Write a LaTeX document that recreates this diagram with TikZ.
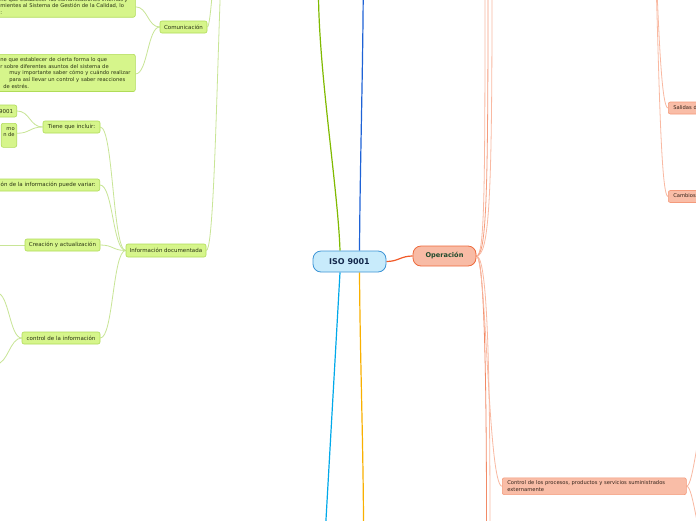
\documentclass[tikz,border=0pt]{standalone}
\usepackage{fontspec}
\setmainfont{DejaVu Sans}
\usetikzlibrary{calc,backgrounds}
\definecolor{gfill}{HTML}{D6F58B}
\definecolor{gborder}{HTML}{B0DC58}
\definecolor{gline}{HTML}{C8E596}
\definecolor{gtext}{HTML}{2A3314}
\definecolor{ofill}{HTML}{F9BDA7}
\definecolor{oborder}{HTML}{F49A7B}
\definecolor{oline}{HTML}{F9B9A2}
\definecolor{odark}{HTML}{F28A66}
\definecolor{otext}{HTML}{33231A}
\definecolor{opfill}{HTML}{F8BBA5}
\definecolor{opborder}{HTML}{EE6A3C}
\definecolor{optext}{HTML}{1E4A2C}
\definecolor{isofill}{HTML}{C8EBFB}
\definecolor{isoborder}{HTML}{3C94D6}
\definecolor{isotext}{HTML}{13284B}
\definecolor{mgreen}{HTML}{80BA00}
\definecolor{mblue}{HTML}{1E62D6}
\definecolor{mcyan}{HTML}{00A9EA}
\definecolor{morange}{HTML}{F9B000}
\definecolor{mred}{HTML}{F15A28}
\tikzset{
  isostyle/.style={draw=isoborder, fill=isofill, line width=0.8pt, rounded corners=8pt,
    text=isotext, font=\fontsize{8}{9.5}\selectfont\bfseries, inner sep=0pt},
  opstyle/.style={draw=opborder, fill=opfill, line width=0.8pt, rounded corners=8pt,
    text=optext, font=\fontsize{6.6}{8}\selectfont\bfseries, inner sep=0pt},
  gnode/.style={draw=gborder, fill=gfill, line width=0.6pt, rounded corners=2pt,
    text=gtext, font=\fontsize{5.5}{6.6}\selectfont, inner sep=0pt, minimum height=12pt},
  gblock/.style={gnode, align=left, font=\fontsize{5.2}{6.8}\selectfont, inner xsep=3pt, inner ysep=3pt},
  onode/.style={draw=oborder, fill=ofill, line width=0.6pt, rounded corners=2pt,
    text=otext, font=\fontsize{5.2}{6.8}\selectfont, inner sep=0pt, minimum height=12pt},
  mainline/.style={line width=1.2pt},
  gconn/.style={draw=gline, line width=0.8pt},
  oconn/.style={draw=oline, line width=0.8pt},
}
\begin{document}
\begin{tikzpicture}[x=1pt,y=-1pt]
\useasboundingbox (0,0) rectangle (696,520);
\clip (0,0) rectangle (696,520);

% free ends (off-picture)
\coordinate (apoyo) at (232,-150);
\coordinate (gtop) at (318.5,-3);
\coordinate (btop) at (363.2,-3);
\coordinate (cbot) at (325.8,523);
\coordinate (obot) at (363.5,523);
\coordinate (oU1) at (485,-5);
\coordinate (oU2) at (488,-5);
\coordinate (oU3) at (492,-5);
\coordinate (oD1) at (486.5,525);
\coordinate (oD2) at (490,525);
\coordinate (dise) at (645,-150);
\coordinate (ctrlU) at (706,420);
\coordinate (ctrlD) at (706,545);
\coordinate (gc1) at (-3,293);
\coordinate (gc2) at (-4,364);
\coordinate (gcr) at (-10,245);

% nodes
\node[isostyle, minimum width=73pt, minimum height=21pt] (iso) at (349.5,261.5) {ISO 9001};
\node[opstyle, minimum width=63pt, minimum height=20pt] (op) at (444.5,256) {Operación};

\node[gnode, minimum width=47pt] (com) at (183.5,27) {Comunicación};
\node[gblock, anchor=south west, text width=132pt, font=\fontsize{5.2}{6.4}\selectfont] (blkA) at (-3,17.5)
  {ne que establecer las comunicaciones internas y\\ mientes al Sistema de Gestión de la Calidad, lo\\ :};
\node[gblock, anchor=north west, text width=132pt] (blkB) at (-3,54)
  {ne que establecer de cierta forma lo que\\ r sobre diferentes asuntos del sistema de\\ \mbox{}\hspace{9pt}muy importante saber cómo y cuándo realizar\\ \mbox{}\hspace{9pt}para así llevar un control y saber reacciones\\ \mbox{}\hspace{3pt}de estrés.};

\node[gnode, minimum width=57pt] (tiene) at (71.5,127) {Tiene que incluir:};
\node[gnode, anchor=east, inner xsep=3.5pt] (iso9001) at (17,111) {ISO 9001};
\node[gnode, anchor=north east, align=right, inner xsep=2pt, inner ysep=2pt, minimum height=24pt,
  font=\fontsize{5.2}{6.6}\selectfont] (comoN) at (17,123) {mo\\n de\\\phantom{x}};
\node[gnode, anchor=east, inner xsep=4pt] (variar) at (100,185) {La extensión de la información puede variar:};
\node[gnode, minimum width=75pt] (crea) at (62.5,245) {Creación y actualización};
\node[gnode, minimum width=80pt, minimum height=13pt] (info) at (166,250.5) {Información documentada};
\node[gnode, minimum width=78pt] (ctrlinfo) at (61,338) {control de la información};

\node[onode, anchor=north west, text width=174pt, align=left, inner xsep=5pt, inner ysep=3pt] (ctrl) at (502,477.5)
  {Control de los procesos, productos y servicios suministrados\\ externamente};
\node[onode, anchor=west, inner xsep=5pt] (salidas) at (668,108) {Salidas del diseño y desarrollo};
\node[onode, anchor=west, inner xsep=5pt] (cambios) at (668,196.5) {Cambios del diseño y desarrollo};

\begin{scope}[on background layer]
\fill[white] (-20,-20) rectangle (716,540);
% main branches
\draw[mainline, mgreen] ([xshift=-9.5pt]iso.north) .. controls +(-2,-60) and +(1,80) .. (gtop);
\draw[mainline, mblue] ([xshift=10pt]iso.north) .. controls +(0.5,-80) and +(-0.5,80) .. (btop);
\draw[mainline, mcyan] ([xshift=-9.5pt]iso.south) -- (cbot);
\draw[mainline, morange] ([xshift=10pt]iso.south) .. controls +(0.5,80) and +(-0.3,-80) .. (obot);
\draw[mainline, mred] (iso.east) .. controls +(12,0) and +(-12,0) .. (op.west);

% green sub-connectors
\draw[gconn] (apoyo) .. controls +(-14,0) and +(6,0) .. (com.east);
\draw[gconn] (apoyo) .. controls +(-14,0) and +(12,0) .. (info.east);
\draw[gconn] (com.west) .. controls +(-12,0) and +(12,0) .. ([yshift=-1pt]blkA.east);
\draw[gconn] (com.west) .. controls +(-12,0) and +(12,0) .. ([yshift=-1pt]blkB.east);
\draw[gconn] (tiene.west) .. controls +(-13,0) and +(13,0) .. (iso9001.east);
\draw[gconn] (tiene.west) .. controls +(-13,0) and +(13,0) .. ([yshift=2pt]comoN.east);
\draw[gconn] (info.west) .. controls +(-13,0) and +(13,0) .. (tiene.east);
\draw[gconn] (info.west) .. controls +(-13,0) and +(13,0) .. (variar.east);
\draw[gconn] (info.west) .. controls +(-13,0) and +(13,0) .. (crea.east);
\draw[gconn] (info.west) .. controls +(-13,0) and +(13,0) .. (ctrlinfo.east);
\draw[gconn] (crea.west) -- (gcr);
\draw[gconn] (ctrlinfo.west) .. controls +(-12,0) and +(12,0) .. (gc1);
\draw[gconn] (ctrlinfo.west) .. controls +(-12,0) and +(12,0) .. (gc2);

% orange sub-connectors
\draw[oconn] (op.east) .. controls +(8,0) and +(0,200) .. (oU1);
\draw[oconn, draw=odark!60!oline] (op.east) .. controls +(10,0) and +(0,200) .. (oU2);
\draw[oconn] (op.east) .. controls +(13,0) and +(0,200) .. (oU3);
\draw[oconn, draw=odark] (op.east) .. controls +(6,0) and +(0,-200) .. (oD1);
\draw[oconn] (op.east) .. controls +(9,0) and +(0,-200) .. (oD2);
\draw[oconn] (op.east) .. controls +(10,0) and +(-14,0) .. (ctrl.west);
\draw[oconn] (ctrl.east) .. controls +(7,0) and +(-8,0) .. (ctrlU);
\draw[oconn] (ctrl.east) .. controls +(7,0) and +(-8,0) .. (ctrlD);
\draw[oconn] (dise) .. controls +(12,0) and +(-12,0) .. (salidas.west);
\draw[oconn] (dise) .. controls +(14,0) and +(-12,0) .. (cambios.west);
\end{scope}
\end{tikzpicture}
\end{document}
